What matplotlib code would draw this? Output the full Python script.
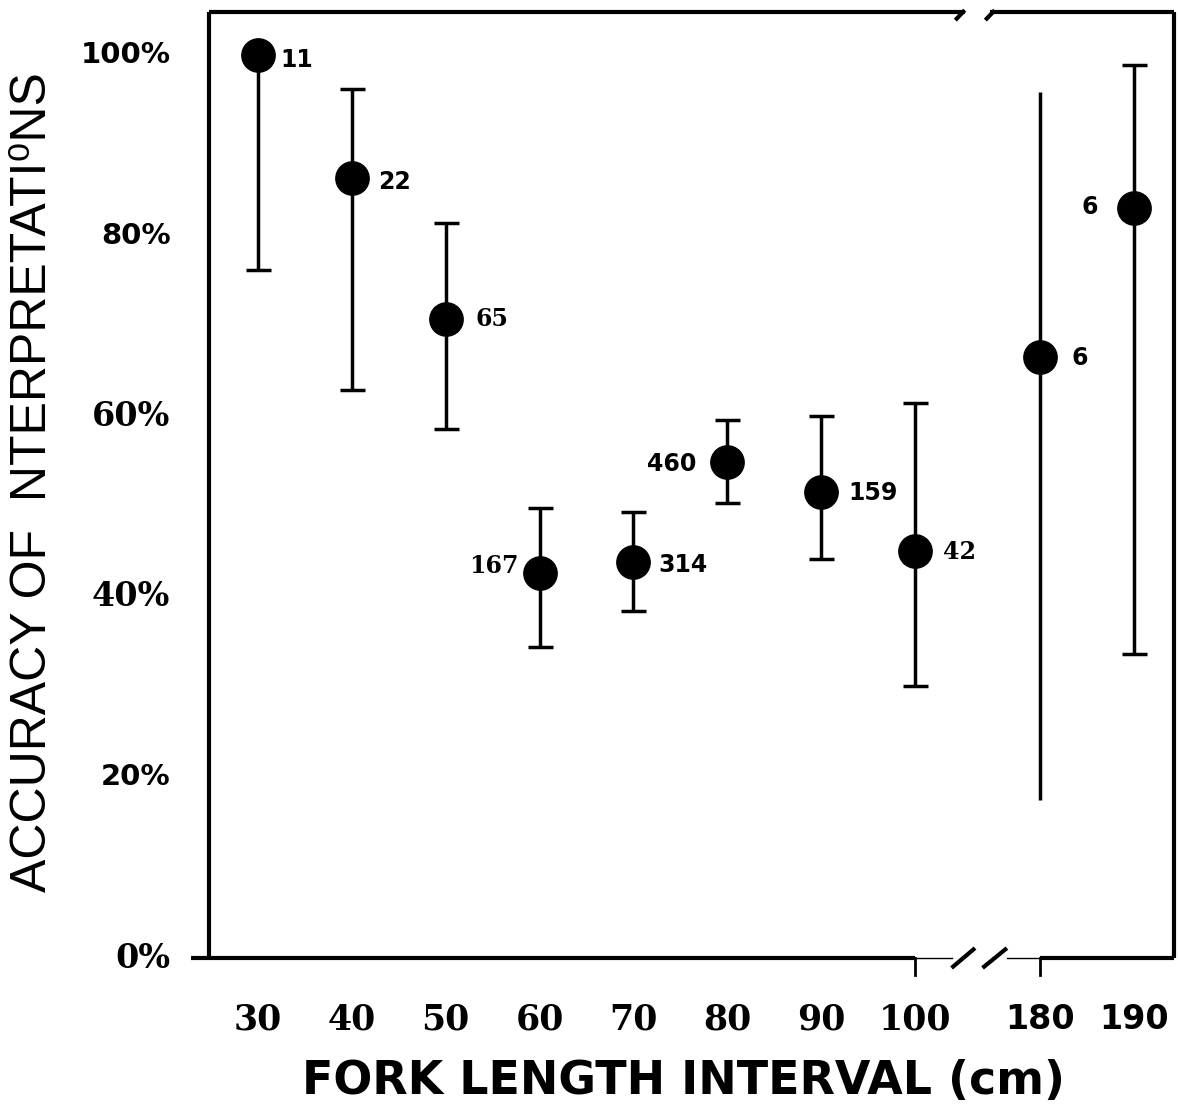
import numpy as np
import matplotlib.pyplot as plt

# dane
dlugosc = [30, 40, 50, 60, 70, 80, 90, 100, 180, 190]
dokladnosc = [100.0, 86.4, 70.8, 42.7, 43.9, 54.9, 51.6, 45.1, 66.6, 83.1]
gorna = [100.0, 96.3, 81.4, 49.8, 49.4, 59.6, 60.0, 61.5, 95.9, 98.9]
dolna = [76.2, 62.9, 58.6, 34.4, 38.4, 50.4, 44.2, 30.1, 17.5, 33.7]
liczebnosc = ['11', '22', '65', '167', '314', '460', '159', '42', '6', '6']
etykiety_y = ['0%', '20%', '40%', '60%', '80%', '100%']

# przerwa w osi x: 180 i 190 przesuniete za 100
przesuniecie = 66.7
pozycje = np.array([d if d <= 100 else d - przesuniecie for d in dlugosc])
y = np.array(dokladnosc)
err = np.array([y - np.array(dolna), np.array(gorna) - y])

SANS = 'DejaVu Sans'
SERIF = 'DejaVu Serif'

fig = plt.figure(figsize=(11.78, 11.07), dpi=100)
ax = fig.add_axes([209 / 1178, 149 / 1107, 965 / 1178, 946 / 1107])
ax.set_xlim(24.78, 127.6)
ax.set_ylim(0, 104.8)

z_kapslami = np.array([d != 180 for d in dlugosc])
ax.errorbar(pozycje[z_kapslami], y[z_kapslami], yerr=err[:, z_kapslami], fmt='o',
            color='black', ms=24, elinewidth=2.5, capsize=9, capthick=2.5)
ax.errorbar(pozycje[~z_kapslami], y[~z_kapslami], yerr=err[:, ~z_kapslami], fmt='o',
            color='black', ms=24, elinewidth=2.5, capsize=0)

# polozenie etykiet liczebnosci (px wzgledem punktu)
przes = [(22, -5, 'left', SANS), (26, -4, 'left', SANS), (30, 0, 'left', SERIF),
         (-21, 7, 'right', SERIF), (25, -3, 'left', SANS), (-31, -2, 'right', SANS),
         (27, -1, 'left', SANS), (28, -1, 'left', SERIF), (32, -1, 'left', SANS),
         (-36, 1, 'right', SANS)]
for xp, yp, lab, (dx, dy, ha, fam) in zip(pozycje, y, liczebnosc, przes):
    ax.annotate(lab, (xp, yp), xytext=(dx, dy), textcoords='offset pixels',
                ha=ha, va='center', fontsize=17, fontweight='bold', family=fam)

# osie rysowane recznie (z przerwa)
for s in ax.spines.values():
    s.set_visible(False)
ax.set_xticks([])
ax.set_yticks([])
lw = 3
kw = dict(color='black', lw=lw, clip_on=False, solid_capstyle='butt')
ax.plot([24.78, 24.78], [0, 104.8], **kw)
ax.plot([127.6, 127.6], [0, 104.8], **kw)
ax.plot([24.78, 105.3], [104.8, 104.8], **kw)
ax.plot([108.0, 127.6], [104.8, 104.8], **kw)
ax.plot([22.86, 100], [0, 0], **kw)
ax.plot([113.3, 127.6], [0, 0], **kw)
ax.plot([100, 103.9], [0, 0], color='black', lw=1, clip_on=False)
ax.plot([109.8, 113.3], [0, 0], color='black', lw=1, clip_on=False)
for x0, x1 in [(103.9, 106.4), (107.2, 109.8)]:
    ax.plot([x0, x1], [-1.1, 1.1], **kw)
for x0, x1 in [(104.3, 105.3), (107.5, 108.5)]:
    ax.plot([x0, x1], [103.9, 105.0], **kw)
for xt in [100, 180 - przesuniecie]:
    ax.plot([xt, xt], [0, -1.9], color='black', lw=2, clip_on=False)

# etykiety osi y
for v, lab in zip([0, 20, 40, 60, 80, 100], etykiety_y):
    serif = lab in ('0%', '40%', '60%')
    ax.text(-0.04, v, lab, transform=ax.get_yaxis_transform(), ha='right', va='center',
            fontsize=24 if serif else 21, fontweight='bold', family=SERIF if serif else SANS)

# etykiety osi x
for xp, d in zip(pozycje, dlugosc):
    serif = d <= 100
    ax.text(xp, -0.065, str(d), transform=ax.get_xaxis_transform(), ha='center', va='center',
            fontsize=25 if serif else 24, fontweight='bold', family=SERIF if serif else SANS)

fig.text(683 / 1178, 1 - 1082 / 1107, 'FORK LENGTH INTERVAL (cm)', ha='center', va='center',
         fontsize=33, fontweight='bold', family=SANS)
fig.text(33 / 1178, 1 - 482 / 1107, 'ACCURACY OF  NTERPRETATI\u2070NS', ha='center', va='center',
         rotation=90, fontsize=36, family=['Liberation Sans', 'DejaVu Sans'])

fig.savefig('out.png', dpi=100)
